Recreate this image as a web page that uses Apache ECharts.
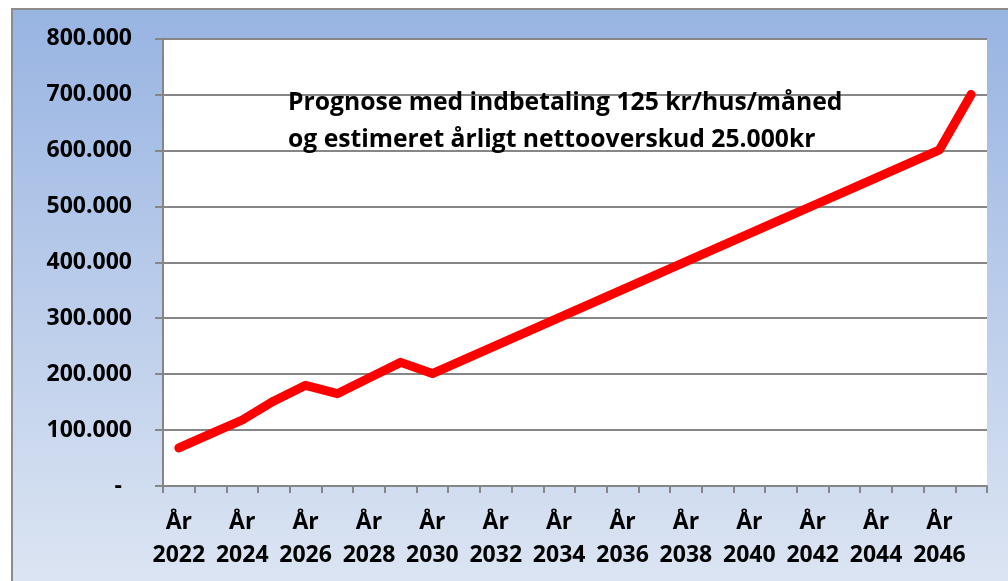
<!DOCTYPE html>
<html>
<head>
<meta charset="utf-8">
<script src="https://cdn.jsdelivr.net/npm/echarts@6/dist/echarts.min.js"></script>
<style>
html,body{margin:0;padding:0;background:#fff;}
#c{width:1008px;height:581px;}
</style>
</head>
<body>
<div id="c"></div>
<script>
const years = ['2022','2023','2024','2025','2026','2027','2028','2029','2030','2031','2032','2033','2034','2035','2036','2037','2038','2039','2040','2041','2042','2043','2044','2045','2046','2047'];
const values = [68000, 93000, 118000, 152000, 180000, 165000, 193000, 221000, 201000, 226000, 251000, 276000, 301000, 326000, 351000, 376000, 401000, 426000, 451000, 476000, 501000, 526000, 551000, 576000, 601000, 700000];
const yTicks = {min: 0, max: 800000, interval: 100000};
const titleLines = ['Prognose med indbetaling 125 kr/hus/måned', 'og estimeret årligt nettooverskud 25.000kr'];

const FONT = '"Open Sans", sans-serif';
const chart = echarts.init(document.getElementById('c'), null, {renderer: 'canvas'});
function fmt(v){
  if (v === 0) return '{d|-}';
  return String(v).replace(/\B(?=(\d{3})+(?!\d))/g, '.');
}
chart.setOption({
  animation: false,
  graphic: [{
    type: 'rect', z: -10, silent: true,
    shape: {x: 12, y: 9, width: 1010, height: 590},
    style: {
      fill: new echarts.graphic.LinearGradient(0, 0, 0, 1, [
        {offset: 0, color: '#98B4E2'},
        {offset: 1, color: '#DEE6F3'}
      ]),
      stroke: '#8C8C8C', lineWidth: 2
    }
  }, {
    type: 'rect', z: -5, silent: true,
    shape: {x: 163, y: 38.5, width: 824, height: 447.5},
    style: {fill: '#ffffff'}
  }],
  title: {
    text: titleLines.join('\n'),
    left: 288, top: 84, padding: 0,
    textStyle: {fontFamily: FONT, fontSize: 24.7, fontWeight: 'bold', color: '#000', lineHeight: 37}
  },
  grid: {left: 163, top: 38.5, right: 21, bottom: 95, containLabel: false},
  xAxis: {
    type: 'category', data: years, boundaryGap: true,
    axisLine: {lineStyle: {color: '#868686', width: 2}},
    axisTick: {show: true, interval: 0, length: 7, lineStyle: {color: '#868686', width: 2}},
    axisLabel: {
      interval: 1, margin: 20, color: '#000', fontFamily: FONT, fontSize: 23, fontWeight: 'bold', lineHeight: 33,
      formatter: v => 'År\n' + v
    },
    splitLine: {show: false}
  },
  yAxis: {
    type: 'value', min: yTicks.min, max: yTicks.max, interval: yTicks.interval,
    axisLine: {show: true, lineStyle: {color: '#868686', width: 2}},
    axisTick: {show: true, length: 8, lineStyle: {color: '#868686', width: 2}},
    axisLabel: {
      margin: 31, color: '#000', fontFamily: FONT, fontSize: 23, fontWeight: 'bold',
      formatter: fmt,
      rich: {d: {fontFamily: FONT, fontSize: 23, fontWeight: 'bold', color: '#000', padding: [0, 10, 0, 0]}}
    },
    splitLine: {show: true, lineStyle: {color: '#868686', width: 2}}
  },
  series: [{
    type: 'line', data: values, symbol: 'none', smooth: false, silent: true,
    lineStyle: {color: '#FF0000', width: 9, cap: 'round', join: 'round'}
  }]
});
</script>
</body>
</html>
